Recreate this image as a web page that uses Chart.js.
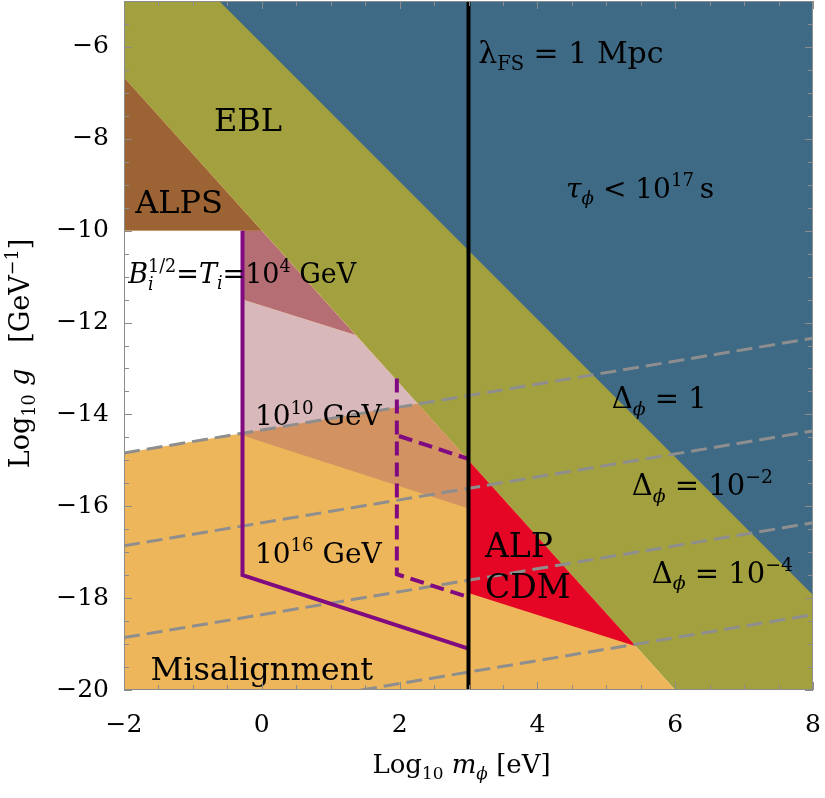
<!DOCTYPE html>
<html><head><meta charset="utf-8">
<script src="https://cdn.jsdelivr.net/npm/chart.js@4.4.1/dist/chart.umd.min.js"></script>
<style>html,body{margin:0;padding:0;background:#fff;}canvas{display:block;}</style>
</head><body>
<canvas id="c" width="825" height="798"></canvas>
<script>
// ---- axis ticks ----
const xTicks = [-2, 0, 2, 4, 6, 8];
const yTicks = [-20, -18, -16, -14, -12, -10, -8, -6];

// ---- regions: [log10 m_phi, log10 g] vertices ----
const eblRegion          = [[-2,-5],[8,-5],[8,-20],[6,-20],[-2,-6.667]];
const lifetimeRegion     = [[-0.62,-5],[8,-5],[8,-17.93]];
const misalignmentRegion = [[-2,-6.667],[6,-20],[-2,-20]];
const alpsRegion         = [[-2,-6.667],[0,-10],[-2,-10]];
const openRegion         = [[-2,-10],[-0.28,-10],[-0.28,-14.41],[-2,-14.84]];
const reheat4Region      = [[-0.28,-10],[0,-10],[1.36,-12.27],[-0.28,-11.5]];
const reheat10Region     = [[-0.28,-11.5],[1.36,-12.27],[2.264,-13.77],[-0.28,-14.41]];
const reheat16Region     = [[-0.28,-14.41],[2.264,-13.77],[3,-15],[3,-16.05],[-0.28,-14.46]];
const alpCdmRegion       = [[3,-15],[5.43,-19.05],[3,-17.89]];

// ---- Delta_phi contours ----
const delta1 = [[-2,-14.84],[8,-12.34]];
const delta2 = [[-2,-16.86],[8,-14.36]];
const delta4 = [[-2,-18.86],[8,-16.36]];
const delta6 = [[1.44,-20],[8,-18.36]];

// ---- boundaries ----
const purpleSolid  = [[-0.28,-10],[-0.28,-17.5],[3,-19.1]];
const purpleDashA  = [[1.96,-13.22],[1.96,-17.48],[3,-17.98]];
const purpleDashB  = [[1.99,-14.47],[3,-14.97]];
const freeStreaming = [[3,-20],[3,-5]];

const toXY = a => a.map(([x, y]) => ({x, y}));
function region(data, color, order) {
  return {data: toXY(data), showLine: true, fill: 'shape', backgroundColor: color,
          borderColor: 'rgba(0,0,0,0)', borderWidth: 0, pointRadius: 0, tension: 0, order};
}
function line(data, color, width, dash, order) {
  return {data: toXY(data), showLine: true, fill: false, borderColor: color, borderWidth: width,
          borderDash: dash || [], pointRadius: 0, tension: 0, order, borderJoinStyle: 'miter'};
}

const SERIF = '"DejaVu Serif", serif';
function fnt(size, it) { return (it ? 'italic ' : '') + size.toFixed(1) + 'px ' + SERIF; }

// rich text: parts {t, i, sub, sup} or {stack:[sub, sup], i}
function partMetrics(ctx, p, size) {
  if (p.stack) {
    ctx.font = fnt(size * 0.65, p.i);
    const w1 = ctx.measureText(p.stack[0]).width;
    ctx.font = fnt(size * 0.65, false);
    const w2 = ctx.measureText(p.stack[1]).width;
    return Math.max(w1, w2);
  }
  const s = (p.sub || p.sup) ? size * 0.65 : size;
  ctx.font = fnt(s, p.i);
  return ctx.measureText(p.t).width;
}
function drawRich(ctx, x, y, parts, size, align) {
  let total = 0;
  for (const p of parts) total += partMetrics(ctx, p, size) + (p.gap || 0);
  let cx = align === 'center' ? x - total / 2 : (align === 'right' ? x - total : x);
  ctx.textAlign = 'left';
  ctx.textBaseline = 'alphabetic';
  for (const p of parts) {
    const w = partMetrics(ctx, p, size);
    if (p.stack) {
      ctx.font = fnt(size * 0.65, p.i);
      ctx.fillText(p.stack[0], cx, y + size * 0.24);
      ctx.font = fnt(size * 0.65, false);
      ctx.fillText(p.stack[1], cx, y - size * 0.42);
    } else if (p.sub) {
      ctx.font = fnt(size * 0.65, p.i);
      ctx.fillText(p.t, cx, y + size * 0.22);
    } else if (p.sup) {
      ctx.font = fnt(size * 0.65, p.i);
      ctx.fillText(p.t, cx, y - size * 0.42);
    } else {
      ctx.font = fnt(size, p.i);
      ctx.fillText(p.t, cx, y);
    }
    cx += w + (p.gap || 0);
  }
}

const labels = [
  {x: -0.20, y: -7.83, size: 32, align: 'center', parts: [{t: 'EBL'}]},
  {x: -1.20, y: -9.61, size: 32, align: 'center', parts: [{t: 'ALPS'}]},
  {x: -1.94, y: -11.15, size: 27, align: 'left', parts: [
    {t: 'B', i: 1}, {stack: ['i', '1/2'], i: 1}, {t: '='}, {t: 'T', i: 1}, {t: 'i', i: 1, sub: 1},
    {t: '=10'}, {t: '4', sup: 1}, {t: ' GeV'}]},
  {x: 3.14, y: -6.35, size: 30, align: 'left', parts: [{t: 'λ'}, {t: 'FS', sub: 1}, {t: ' = 1 Mpc'}]},
  {x: 5.49, y: -9.28, size: 28, align: 'center', parts: [
    {t: 'τ', i: 1}, {t: 'ϕ', i: 1, sub: 1}, {t: ' < 10'}, {t: '17', sup: 1}, {t: '\u2009s'}]},
  {x: -0.10, y: -14.24, size: 28, align: 'left', parts: [{t: '10'}, {t: '10', sup: 1}, {t: ' GeV'}]},
  {x: -0.10, y: -17.24, size: 28, align: 'left', parts: [{t: '10'}, {t: '16', sup: 1}, {t: ' GeV'}]},
  {x: 0.0, y: -19.78, size: 32, align: 'center', parts: [{t: 'Misalignment'}]},
  {x: 5.08, y: -13.87, size: 29, align: 'left', parts: [{t: 'Δ'}, {t: 'ϕ', i: 1, sub: 1}, {t: ' = 1'}]},
  {x: 5.37, y: -15.76, size: 29, align: 'left', parts: [{t: 'Δ'}, {t: 'ϕ', i: 1, sub: 1}, {t: ' = 10'}, {t: '−2', sup: 1}]},
  {x: 5.66, y: -17.67, size: 29, align: 'left', parts: [{t: 'Δ'}, {t: 'ϕ', i: 1, sub: 1}, {t: ' = 10'}, {t: '−4', sup: 1}]},
  {x: 3.24, y: -17.11, size: 33, align: 'left', parts: [{t: 'ALP'}]},
  {x: 3.24, y: -18.00, size: 33, align: 'left', parts: [{t: 'CDM'}]},
];

const decor = {
  id: 'decor',
  afterDatasetsDraw(chart) {
    const {ctx, chartArea: a, scales: {x, y}} = chart;
    ctx.save();
    ctx.fillStyle = '#000';
    for (const L of labels) drawRich(ctx, x.getPixelForValue(L.x), y.getPixelForValue(L.y), L.parts, L.size, L.align);
    // frame
    ctx.strokeStyle = '#8c8c8c';
    ctx.lineWidth = 1;
    ctx.strokeRect(a.left + 0.5, a.top + 0.5, a.right - a.left - 1, a.bottom - a.top - 1);
    // inner ticks
    ctx.beginPath();
    for (let v = x.min; v <= x.max + 1e-9; v += 0.5) {
      const p = Math.round(x.getPixelForValue(v)) + 0.5;
      const len = Math.abs(v % 2) < 1e-9 ? 8 : 5;
      ctx.moveTo(p, a.bottom); ctx.lineTo(p, a.bottom - len);
      ctx.moveTo(p, a.top); ctx.lineTo(p, a.top + len);
    }
    for (let v = y.min; v <= y.max + 1e-9; v += 0.5) {
      const p = Math.round(y.getPixelForValue(v)) + 0.5;
      const len = Math.abs(v % 2) < 1e-9 ? 8 : 5;
      ctx.moveTo(a.left, p); ctx.lineTo(a.left + len, p);
      ctx.moveTo(a.right, p); ctx.lineTo(a.right - len, p);
    }
    ctx.stroke();
    ctx.restore();
  },
  afterDraw(chart) {
    const {ctx, chartArea: a} = chart;
    ctx.save();
    ctx.fillStyle = '#000';
    drawRich(ctx, (a.left + a.right) / 2 - 7, 773, [
      {t: 'Log'}, {t: '10', sub: 1}, {t: ' '}, {t: 'm', i: 1}, {t: 'ϕ', i: 1, sub: 1}, {t: ' [eV]'}], 26, 'center');
    ctx.translate(29, (a.top + a.bottom) / 2 + 8);
    ctx.rotate(-Math.PI / 2);
    drawRich(ctx, 0, 0, [
      {t: 'Log'}, {t: '10', sub: 1}, {t: ' '}, {t: 'g', i: 1}, {t: '   [GeV'}, {t: '−1', sup: 1}, {t: ']'}], 27, 'center');
    ctx.restore();
  }
};

const tickFmt = v => (v < 0 ? '\u2212' : '') + Math.abs(v);

new Chart(document.getElementById('c'), {
  type: 'scatter',
  data: {datasets: [
    region(eblRegion, '#a3a13f', 100),
    region(lifetimeRegion, '#3e6a85', 99),
    region(misalignmentRegion, '#eeb65a', 98),
    region(alpsRegion, '#9c6434', 97),
    region(openRegion, '#ffffff', 96),
    region(reheat4Region, '#b56f74', 95),
    region(reheat10Region, '#d9b8bb', 94),
    region(reheat16Region, '#d29262', 93),
    region(alpCdmRegion, '#e50625', 92),
    line(delta1, '#8e8e8e', 3, [16, 7], 50),
    line(delta2, '#8e8e8e', 3, [16, 7], 49),
    line(delta4, '#8e8e8e', 3, [16, 7], 48),
    line(delta6, '#8e8e8e', 3, [16, 7], 47),
    line(purpleSolid, '#800a80', 4, [], 40),
    line(purpleDashA, '#800a80', 4, [14, 7], 39),
    line(purpleDashB, '#800a80', 4, [14, 7], 38),
    line(freeStreaming, '#000000', 4, [], 10),
  ]},
  options: {
    responsive: false,
    animation: false,
    layout: {padding: {top: 1, right: 12, left: 0, bottom: 0}},
    plugins: {legend: {display: false}, tooltip: {enabled: false}},
    scales: {
      x: {
        type: 'linear', min: -2, max: 8,
        afterFit: s => { s.height = 108; s.paddingLeft = 0; s.paddingRight = 0; },
        afterBuildTicks: s => { s.ticks = xTicks.map(v => ({value: v})); },
        grid: {display: false}, border: {display: false},
        ticks: {callback: tickFmt, color: '#000', padding: 12, maxRotation: 0,
                font: {family: SERIF, size: 25}}
      },
      y: {
        type: 'linear', min: -20, max: -5,
        afterFit: s => { s.width = 124; s.paddingTop = 0; s.paddingBottom = 0; },
        afterBuildTicks: s => { s.ticks = yTicks.map(v => ({value: v})); },
        grid: {display: false}, border: {display: false},
        ticks: {callback: tickFmt, color: '#000', padding: 7,
                font: {family: SERIF, size: 25}}
      }
    }
  },
  plugins: [decor]
});
</script>
</body></html>
